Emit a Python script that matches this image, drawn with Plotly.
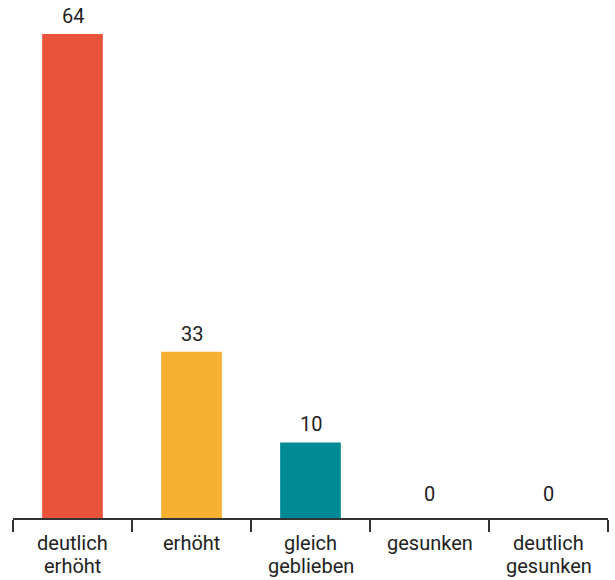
import plotly.graph_objects as go

categories = ["deutlich<br>erhöht", "erhöht", "gleich<br>geblieben", "gesunken", "deutlich<br>gesunken"]
bar_values = [64, 22, 10, 0, 0]
value_labels = ["64", "33", "10", "0", "0"]
bar_colors = ["#E9533A", "#F6B133", "#008A96", "#cccccc", "#cccccc"]

FONT = "Roboto"
TXT = "#222222"

fig = go.Figure()
fig.add_trace(go.Bar(
    x=categories, y=bar_values, marker=dict(color=bar_colors, line=dict(width=0)),
    width=0.51, hoverinfo="skip",
))

# value labels above bars
for c, v, t in zip(categories, bar_values, value_labels):
    fig.add_annotation(
        x=c, y=v, text=t, showarrow=False, yanchor="bottom", borderpad=0,
        yshift=11 if v == 0 else 5,
        font=dict(family=FONT, size=20, color=TXT),
    )

# category labels (line by line for tighter line spacing)
for c in categories:
    for i, line in enumerate(c.split("<br>")):
        fig.add_annotation(
            x=c, y=0, text=line, showarrow=False, yanchor="middle",
            yshift=-25 - 23 * i,
            font=dict(family=FONT, size=20, color=TXT),
        )

fig.update_layout(
    width=615, height=580,
    margin=dict(l=13, r=7, t=34, b=62, autoexpand=False),
    paper_bgcolor="white", plot_bgcolor="white",
    showlegend=False,
    font=dict(family=FONT, size=20, color=TXT),
    xaxis=dict(
        type="category", showline=True, linecolor="#333333", linewidth=1.5,
        ticks="outside", tickson="boundaries", ticklen=12, tickwidth=1.5,
        tickcolor="#333333", showgrid=False, zeroline=False,
        showticklabels=False, fixedrange=True,
    ),
    yaxis=dict(range=[0, 64], visible=False, showgrid=False, zeroline=False, fixedrange=True),
)

fig.write_html(
    "out.html",
    config={"displayModeBar": False},
    post_script="document.body.style.margin='0';document.body.style.overflow='hidden';",
)
